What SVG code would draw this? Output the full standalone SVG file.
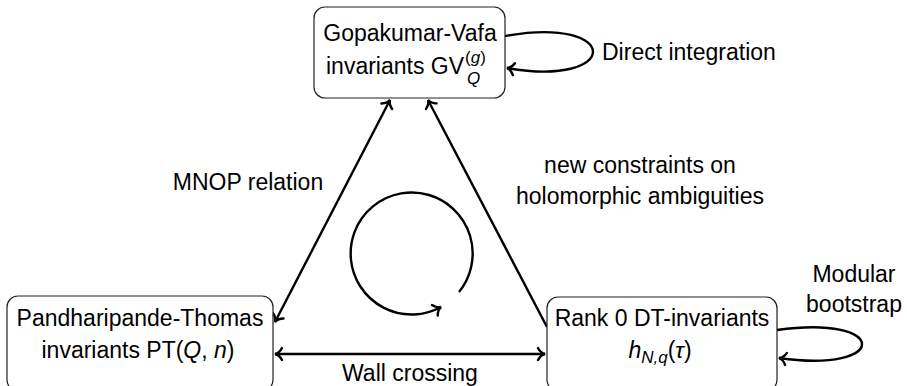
<svg xmlns="http://www.w3.org/2000/svg" width="907" height="386" viewBox="0 0 907 386">
<style>
text{font-family:"Liberation Sans",Arial,sans-serif;font-size:23px;fill:#000}
.it{font-style:italic}
.sm{font-size:17px}
.box{fill:#fff;stroke:#222;stroke-width:1.2}
.ln{fill:none;stroke:#000;stroke-width:2.4}
</style>
<defs>
<marker id="ah" markerUnits="userSpaceOnUse" viewBox="-10 -8 12 16" refX="0" refY="0" markerWidth="12" markerHeight="16" orient="auto-start-reverse">
<path d="M -7 -6 C -5 -2 -2 -0.5 0 0 C -2 0.5 -5 2 -7 6" fill="none" stroke="#000" stroke-width="2.4" stroke-linecap="round"/>
</marker>
</defs>
<g id="connectors">
<path class="ln" d="M 390 100 L 275 322" marker-start="url(#ah)" marker-end="url(#ah)"/>
<path class="ln" d="M 547 327 L 428 100" marker-end="url(#ah)"/>
<path class="ln" d="M 275 354 L 545 354" marker-start="url(#ah)" marker-end="url(#ah)"/>
<path class="ln" d="M 505 36 C 622 15 622 88 507 68" marker-end="url(#ah)"/>
<path class="ln" d="M 777 330 C 890 314 890 374 779 358" marker-end="url(#ah)"/>
<path class="ln" d="M 459 292 A 61 61 0 1 0 441 307" marker-end="url(#ah)"/>
</g>
<g id="labels">
<text x="248" y="190" text-anchor="middle">MNOP relation</text>
<text x="640" y="173" text-anchor="middle">new constraints on</text>
<text x="640" y="204" text-anchor="middle">holomorphic ambiguities</text>
<text x="602" y="60">Direct integration</text>
<text x="342" y="381">Wall crossing</text>
<text x="854" y="282" text-anchor="middle">Modular</text>
<text x="854" y="312" text-anchor="middle">bootstrap</text>
</g>
<g id="gv">
<rect class="box" x="314" y="7" width="191" height="91" rx="11"/>
<text x="410" y="41" text-anchor="middle">Gopakumar-Vafa</text>
<text x="326" y="74">invariants GV</text>
<text x="465" y="63" class="sm">(<tspan class="it">g</tspan>)</text>
<text x="467" y="84" class="sm it">Q</text>
</g>
<g id="pt">
<rect class="box" x="7" y="296" width="266" height="95" rx="11"/>
<text x="140" y="326" text-anchor="middle">Pandharipande-Thomas</text>
<text x="138" y="358" text-anchor="middle">invariants PT(<tspan class="it">Q</tspan>, <tspan class="it">n</tspan>)</text>
</g>
<g id="rank0">
<rect class="box" x="547" y="297" width="230" height="94" rx="11"/>
<text x="662" y="326" text-anchor="middle">Rank 0 DT-invariants</text>
<text x="660" y="358" text-anchor="middle"><tspan class="it">h</tspan><tspan class="sm it" dy="5">N,q</tspan><tspan dy="-5">(</tspan><tspan class="it">τ</tspan>)</text>
</g>
</svg>
